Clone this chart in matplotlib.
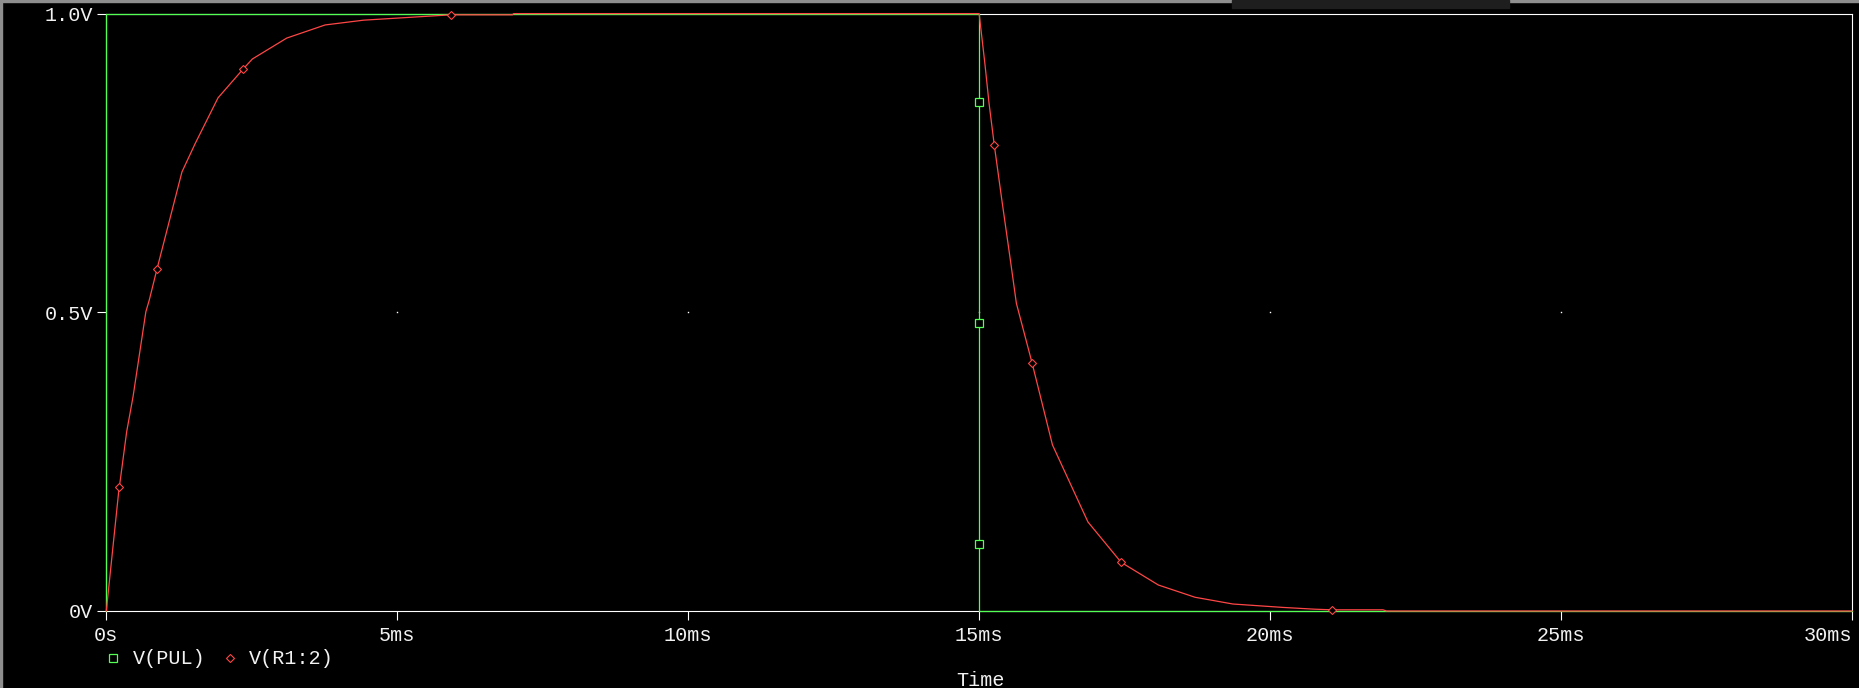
import matplotlib
matplotlib.use('Agg')
import matplotlib.pyplot as plt
from matplotlib.patches import Rectangle
from matplotlib.lines import Line2D

# V(PUL): pulse source, 1V from 0 to 15ms
pul_t = [0, 0, 15, 15, 30]
pul_v = [0, 1.0, 1.0, 0, 0]
pul_mark_t = [15, 15, 15]
pul_mark_v = [0.852, 0.482, 0.112]

# V(R1:2): RC charge / discharge
r1_t = [0, 0.21, 0.35, 0.46, 0.68, 0.74, 0.87, 1.30, 1.53, 1.92, 2.35, 2.51,
        3.10, 3.76, 4.42, 5.93, 6.98, 7.0, 15.0, 15.10, 15.17, 15.26, 15.39, 15.54,
        15.64, 15.91, 16.26, 16.87, 17.36, 17.44, 18.08, 18.71, 19.36, 20.22,
        20.77, 21.06, 21.94, 22.0, 30.0]
r1_v = [0, 0.197, 0.300, 0.359, 0.501, 0.521, 0.572, 0.735, 0.783, 0.859, 0.907, 0.924,
        0.959, 0.981, 0.989, 0.998, 0.998, 1.0, 1.0, 0.915, 0.85, 0.78, 0.688, 0.585,
        0.515, 0.415, 0.278, 0.149, 0.091, 0.0815, 0.0435, 0.023, 0.0117, 0.006,
        0.003, 0.002, 0.002, 0.0, 0.0]
r1_mark_t = [0.224, 0.877, 2.345, 5.93, 15.256, 15.91, 17.44, 21.06]
r1_mark_v = [0.207, 0.573, 0.907, 0.998, 0.780, 0.415, 0.0815, 0.002]

x_ticks = [0, 5, 10, 15, 20, 25, 30]
x_labels = ['0s', '5ms', '10ms', '15ms', '20ms', '25ms', '30ms']
y_ticks = [0, 0.5, 1.0]
y_labels = ['0V', '0.5V', '1.0V']

GREEN = '#52ff52'
RED = '#ff4646'
TXT = '#f2f2f2'
FONT = ['Liberation Mono', 'DejaVu Sans Mono']

fig = plt.figure(figsize=(18.59, 6.88), dpi=100, facecolor='black')
ax = fig.add_axes([0.05718, 0.11192, 0.93905, 0.86831])
ax.set_facecolor('black')

# grid dots at the inner intersections
for gx in x_ticks[1:-1]:
    ax.plot(gx, 0.5, marker='s', ms=1.0, color='white', mew=0, zorder=1)

ax.plot(pul_t, pul_v, color=GREEN, lw=0.9, zorder=3, clip_on=False)
ax.plot(pul_mark_t, pul_mark_v, ls='none', marker='s', ms=5.6, mfc='black',
        mec=GREEN, mew=0.9, zorder=4, clip_on=False)
ax.plot(r1_t, r1_v, color=RED, lw=0.9, zorder=5, clip_on=False)
ax.plot(r1_mark_t, r1_mark_v, ls='none', marker='D', ms=4.4, mfc='black',
        mec=RED, mew=0.8, zorder=6, clip_on=False)

ax.set_xlim(0, 30)
ax.set_ylim(0, 1.0)
for s in ax.spines.values():
    s.set_color('white')
    s.set_linewidth(0.8)

ax.set_xticks(x_ticks)
ax.set_xticklabels(x_labels)
ax.set_yticks(y_ticks)
ax.set_yticklabels(y_labels)
ax.tick_params(colors='white', length=6.5, width=0.8, direction='out',
               labelcolor=TXT, labelsize=14.5, pad=3)
ax.tick_params(axis='x', pad=4)
for lab in ax.get_xticklabels() + ax.get_yticklabels():
    lab.set_family(FONT)
ax.get_xticklabels()[-1].set_horizontalalignment('right')

# legend drawn by hand like the PSpice probe window
fig.add_artist(Line2D([0.0608], [0.0436], marker='s', ms=5.6, mfc='black',
                      mec=GREEN, mew=0.9, ls='none', transform=fig.transFigure))
fig.text(0.0715, 0.0436, 'V(PUL)', color=TXT, fontsize=14.5, family=FONT,
         va='center', ha='left')
fig.add_artist(Line2D([0.1237], [0.0436], marker='D', ms=3.9, mfc='black',
                      mec=RED, mew=0.8, ls='none', transform=fig.transFigure))
fig.text(0.1339, 0.0436, 'V(R1:2)', color=TXT, fontsize=14.5, family=FONT,
         va='center', ha='left')

fig.text(0.5272, 0.0116, 'Time', color=TXT, fontsize=14.5, family=FONT,
         va='center', ha='center')

# window frame bits
fig.patches.append(Rectangle((0, 0.9975), 1, 0.0025, transform=fig.transFigure,
                             color='#8e8e8e', zorder=0))
fig.patches.append(Rectangle((0, 0), 0.0011, 1, transform=fig.transFigure,
                             color='#8e8e8e', zorder=0))
fig.patches.append(Rectangle((0.6627, 0.9884), 0.149, 0.0116, transform=fig.transFigure,
                             color='#1e1e1e', zorder=1))

plt.savefig('out.png', dpi=100, facecolor='black')
